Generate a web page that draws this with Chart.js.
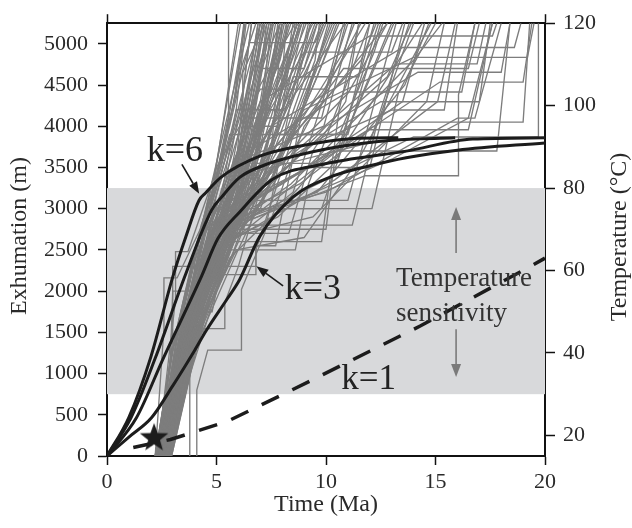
<!DOCTYPE html>
<html>
<head>
<meta charset="utf-8">
<script src="https://cdn.jsdelivr.net/npm/chart.js@4.4.0/dist/chart.umd.min.js"></script>
<style>
  html, body { margin: 0; padding: 0; background: #fff; }
  canvas { display: block; }
</style>
</head>
<body>
<canvas id="chart" width="632" height="528"></canvas>
<script>
// axis ticks
const timeTicks = [0, 5, 10, 15, 20];
const depthTicks = [0, 500, 1000, 1500, 2000, 2500, 3000, 3500, 4000, 4500, 5000];
const tempTicks = [20, 40, 60, 80, 100, 120];

// temperature sensitivity window (m)
const sensLow = 750;
const sensHigh = 3250;

// model curves, time (Ma) vs exhumation (m)
const k6Time = [0, 1, 2, 3, 3.6, 4.2, 4.5, 5.2, 7, 9, 11.5, 13.3];
const k6Exh  = [0, 470, 1200, 2170, 2660, 3100, 3190, 3380, 3640, 3770, 3855, 3860];
const k5Time = [0, 1.1, 2.2, 3.56, 4.77, 5.23, 6.06, 7.2, 8.3, 10.3, 13, 15.9];
const k5Exh  = [0, 467, 1185, 2183, 2980, 3140, 3380, 3530, 3620, 3740, 3830, 3860];
const k4Time = [0, 1.35, 2.57, 4.32, 5.07, 6.06, 7.58, 9.86, 13.66, 16.7, 20];
const k4Exh  = [0, 467, 1185, 2183, 2640, 2960, 3359, 3539, 3698, 3845, 3860];
const k3Time = [0, 1, 2.04, 3, 4, 4.54, 5.5, 6.06, 6.97, 8.49, 10.16, 12, 13.66, 16, 20];
const k3Exh  = [0, 230, 467, 850, 1280, 1525, 1910, 2142, 2661, 3140, 3380, 3520, 3619, 3710, 3798];
const k1Time = [1.2, 2.9, 5.5, 9.25, 14.3, 19.3, 20];
const k1Exh  = [104, 200, 420, 906, 1577, 2295, 2400];

// sample location
const starTime = [2.15];
const starExh = [224];

// individual sampled histories [time, exhumation]
const runs = [
  [[2.2,0],[2.95,1250],[4.0,2500],[4.9,3300],[5.8,4300],[6.25,5250]],
  [[2.25,0],[3.0,1250],[4.1,2550],[4.85,3220],[5.55,4120],[5.55,5250]],
  [[2.3,0],[3.1,1300],[4.2,2650],[5.3,3900],[6.5,5250]],
  [[2.3,0],[3.2,1450],[4.3,2800],[5.2,3500],[6.0,4600],[6.8,5250]],
  [[2.35,0],[3.15,1250],[4.4,2700],[5.6,3900],[6.1,3900],[6.9,5250]],
  [[2.4,0],[3.35,1450],[4.5,2800],[5.4,3600],[7.0,5250]],
  [[2.4,0],[3.3,1300],[4.6,2900],[6.2,4300],[6.2,4650],[7.2,5250]],
  [[2.45,0],[3.5,1600],[4.7,2750],[5.8,3300],[7.4,5250]],
  [[2.5,0],[3.4,1350],[4.5,2600],[5.5,3000],[6.5,4400],[7.6,5250]],
  [[2.5,0],[3.6,1500],[4.8,2900],[6.4,4000],[7.8,4000],[8.2,5250]],
  [[2.55,0],[3.5,1400],[4.9,2700],[6.6,3700],[8.0,5250]],
  [[2.6,0],[3.6,1450],[5.0,2850],[6.0,3200],[8.3,5250]],
  [[2.6,0],[3.7,1600],[5.1,3000],[7.0,4500],[8.6,5250]],
  [[2.65,0],[3.8,1700],[5.2,2700],[6.8,3300],[8.8,5250]],
  [[2.7,0],[3.7,1450],[5.3,2900],[7.5,4200],[8.0,4200],[9.0,5250]],
  [[2.7,0],[3.9,1800],[5.4,2600],[7.2,3500],[9.3,5250]],
  [[2.75,0],[3.8,1500],[5.5,2800],[7.0,3000],[9.5,4800],[9.7,5250]],
  [[2.8,0],[3.9,1600],[5.6,2700],[8.0,3800],[9.9,5250]],
  [[2.8,0],[4.0,1700],[5.7,2900],[7.6,3400],[10.3,5250]],
  [[2.85,0],[3.9,1400],[5.8,2700],[8.8,4100],[10.6,5250]],
  [[2.9,0],[4.0,1500],[5.9,2650],[8.5,3200],[11.0,5250]],
  [[2.4,0],[3.4,1500],[4.6,2600],[9.8,2600],[10.6,4200],[11.5,5250]],
  [[2.6,0],[3.7,1550],[5.0,2500],[8.6,2500],[9.2,3300],[12.0,5250]],
  [[2.5,0],[3.5,1500],[4.9,2750],[10.0,2750],[10.4,3600],[12.4,5250]],
  [[2.7,0],[3.8,1600],[5.3,2800],[7.4,2800],[9.0,4000],[12.8,5250]],
  [[2.35,0],[3.4,1600],[4.4,2500],[6.8,3100],[11.0,3100],[13.2,5250]],
  [[2.55,0],[3.6,1600],[5.2,2950],[9.2,3500],[12.0,3500],[13.6,5250]],
  [[2.8,0],[3.9,1600],[5.7,2800],[11.2,2800],[12.3,4000],[14.0,5250]],
  [[2.45,0],[3.5,1500],[4.9,2800],[8.0,3300],[13.5,4300],[14.5,5250]],
  [[2.65,0],[3.8,1650],[5.4,3000],[12.1,3000],[13.3,4400],[15.0,5250]],
  [[2.75,0],[3.8,1500],[5.6,2650],[9.4,2900],[14.6,4300],[15.4,5250]],
  [[2.9,0],[4.0,1600],[5.9,2800],[11.8,3400],[16.05,3400],[16.05,4380],[16.8,5250]],
  [[2.6,0],[3.6,1450],[5.1,2700],[13.0,3600],[16.5,4100],[17.6,5250]],
  [[2.4,0],[3.5,1500],[4.8,2800],[10.5,3700],[17.8,3700],[18.4,5250]],
  [[2.7,0],[3.7,1500],[5.4,2900],[12.5,4050],[19.0,4050],[19.3,5250]],
  [[2.5,0],[3.6,1550],[5.0,2700],[14.0,3870],[19.7,3870],[19.7,5250]],
  [[2.85,0],[3.9,1500],[5.8,2900],[10.8,4700],[16.5,4700],[17.0,5250]],
  [[2.2,0],[2.6,1550],[2.6,2160],[3.2,2160],[4.7,3000],[6.0,5250]],
  [[2.3,0],[3.13,1900],[3.13,2480],[3.7,2480],[4.9,3400],[6.1,5250]],
  [[4.1,0],[4.1,800],[4.6,1285],[6.14,1285],[6.14,2020],[7.2,2700],[8.4,4300],[9.2,5250]],
  [[3.78,0],[3.78,1100],[4.4,1545],[5.38,1545],[5.38,1860],[6.0,2300],[7.5,3700],[8.0,5250]],
  [[2.4,0],[2.9,1200],[3.0,2000],[4.0,2000],[4.0,2350],[5.4,3500],[7.3,5250]],
  [[2.55,0],[3.2,1500],[3.4,1750],[4.8,1750],[5.3,2400],[6.5,3600],[8.7,5250]],
  [[2.3,0],[3.0,1400],[3.0,2300],[3.6,2300],[6.8,2300],[6.8,2500],[9.5,4700],[10.2,5250]],
  [[2.6,0],[3.6,1450],[4.8,2200],[6.8,2200],[6.8,2550],[7.7,2550],[9.0,4300],[10.4,5250]],
  [[2.35,0],[3.3,1350],[4.6,2800],[7.0,4300],[12.0,5095],[17.6,5095],[17.8,5250]],
  [[2.45,0],[3.5,1550],[4.7,2700],[7.5,4000],[13.5,4955],[18.6,4955],[18.9,5250]],
  [[2.55,0],[3.5,1400],[5.0,2800],[9.0,4200],[14.0,4835],[19.2,4835],[19.5,5250]],
  [[2.65,0],[3.7,1500],[5.3,2900],[8.2,3600],[13.2,4756],[16.9,4756],[17.3,5250]],
  [[2.75,0],[3.9,1700],[5.5,2750],[10.0,4000],[14.2,4655],[18.0,4655],[18.4,5250]],
  [[2.85,0],[3.9,1500],[5.7,2700],[10.5,3700],[15.2,4536],[19.0,4536],[19.4,5250]],
  [[2.3,0],[3.3,1450],[4.4,2700],[6.5,3700],[11.0,4416],[16.2,4416],[16.8,5250]],
  [[2.4,0],[3.4,1500],[4.5,2750],[7.6,3500],[12.5,4297],[17.0,4297],[17.5,5250]],
  [[2.5,0],[3.5,1500],[4.8,2750],[9.5,3800],[13.0,4197],[15.4,4197],[16.0,5250]],
  [[2.6,0],[3.6,1450],[5.0,2800],[8.8,3300],[12.0,3958],[16.5,3958],[17.6,5250]],
  [[2.7,0],[3.8,1600],[5.2,2850],[10.0,3200],[16.0,4098],[16.8,4098],[18.0,5250]],
  [[2.8,0],[3.9,1600],[5.6,2900],[7.0,4000],[9.0,4900],[13.0,4900],[13.5,5250]],
  [[2.9,0],[4.0,1600],[5.9,2800],[7.5,3800],[8.5,4600],[11.5,4600],[12.2,5250]],
  [[2.2,0],[3.1,1450],[4.0,2450],[5.0,3500],[7.0,4450],[10.0,4450],[10.8,5250]],
  [[2.35,0],[3.2,1300],[4.3,2600],[5.6,4000],[6.5,5015],[9.5,5015],[9.9,5250]],
  [[2.45,0],[3.4,1400],[4.6,2700],[5.9,4200],[8.0,4200],[8.6,5250]],
  [[2.55,0],[3.5,1450],[4.8,2700],[6.2,3600],[7.0,4700],[9.0,4700],[9.6,5250]],
  [[2.65,0],[3.7,1500],[5.1,2800],[6.4,3900],[11.0,3900],[12.5,5250]],
  [[2.75,0],[3.8,1550],[5.4,2600],[7.8,2900],[10.2,3500],[14.4,5250]],
  [[2.85,0],[3.9,1500],[5.6,2700],[6.8,3600],[7.5,5250]],
  [[2.25,0],[3.2,1400],[4.3,2700],[5.3,3700],[6.3,5250]],
  [[2.5,0],[3.6,1600],[4.6,2500],[5.8,3300],[6.3,4600],[6.6,5250]],
  [[2.7,0],[3.7,1400],[5.0,2500],[6.3,3800],[7.2,5250]],
  [[2.6,0],[3.6,1500],[5.0,2700],[7.2,4800],[7.9,5250]],
  [[2.4,0],[3.3,1350],[4.4,2650],[5.6,3300],[8.1,4600],[8.5,5250]],
  [[2.3,0],[3.3,1200],[4.5,2100],[5.6,3100],[6.4,4300],[7.0,5250]],
  [[2.45,0],[3.5,1300],[4.7,2200],[5.9,3300],[6.9,4500],[7.4,5250]],
  [[2.6,0],[3.8,1400],[5.0,2300],[6.1,3400],[7.0,4200],[7.7,5250]],
  [[2.75,0],[3.9,1300],[5.2,2300],[6.4,3500],[7.4,4400],[8.1,5250]],
  [[2.85,0],[4.0,1350],[5.5,2400],[6.7,3500],[7.6,4600],[8.4,5250]],
  [[2.9,0],[4.1,1400],[5.8,2500],[7.0,3400],[8.0,4500],[8.8,5250]],
  [[2.5,0],[3.7,1500],[5.3,2600],[6.5,3800],[7.3,5000],[7.5,5250]],
  [[2.65,0],[3.9,1600],[5.5,2700],[6.6,3300],[7.6,4700],[8.0,5250]],
  [[2.8,0],[4.0,1500],[5.7,2600],[7.1,3600],[8.3,4700],[9.1,5250]],
  [[2.55,0],[3.7,1350],[5.1,2500],[6.8,3400],[8.6,4800],[9.4,5250]],
  [[2.35,0],[3.5,1400],[4.8,2400],[6.0,3200],[7.8,4500],[8.9,5250]],
  [[2.7,0],[3.8,1450],[5.4,2650],[6.9,3700],[9.0,4700],[9.8,5250]],
  [[2.9,0],[4.0,1300],[5.9,2450],[7.4,3300],[9.2,4400],[10.1,5250]],
  [[2.4,0],[3.6,1500],[4.9,2550],[6.3,3600],[8.2,4900],[8.7,5250]],
  [[2.6,0],[3.8,1500],[5.2,2500],[6.4,3000],[7.2,4000],[7.8,5250]],
  [[2.75,0],[3.9,1400],[5.6,2550],[7.3,3200],[9.6,4600],[10.5,5250]],
  [[2.5,0],[3.6,1400],[5.0,2450],[7.0,3800],[10.2,5000],[10.9,5250]],
  [[2.85,0],[4.0,1450],[5.8,2600],[8.0,3700],[10.8,4900],[11.3,5250]],
  [[2.3,0],[3.4,1350],[4.7,2500],[6.2,3300],[9.8,4400],[11.8,5250]],
  [[2.65,0],[3.8,1450],[5.3,2500],[8.5,3900],[11.6,4800],[12.3,5250]],
  [[2.45,0],[3.6,1450],[5.0,2600],[7.3,3400],[11.0,4400],[12.8,5250]],
  [[2.8,0],[3.9,1350],[5.6,2400],[7.9,3000],[10.9,3900],[13.1,5250]],
  [[2.55,0],[3.7,1450],[5.2,2700],[9.0,3700],[12.8,4600],[13.9,5250]],
  [[2.7,0],[3.9,1550],[5.5,2800],[9.6,3200],[13.6,4500],[14.7,5250]],
  [[2.4,0],[3.5,1450],[4.9,2650],[8.4,3300],[14.0,4800],[15.3,5250]],
  [[2.6,0],[3.7,1400],[5.3,2550],[10.4,3350],[15.1,4300],[15.9,5250]],
  [[2.9,0],[4.0,1450],[5.9,2500],[9.0,2650],[11.5,3600],[14.8,5250]],
  [[2.35,0],[3.4,1450],[4.7,2650],[6.0,3400],[12.0,3800],[13.8,5250]],
  [[2.5,0],[3.6,1500],[5.1,2650],[6.2,3600],[9.9,4000],[11.2,5250]],
  [[2.75,0],[3.9,1500],[5.4,2500],[6.6,2900],[8.1,3500],[11.6,5250]],
  [[2.3,0],[3.2,1250],[4.3,2300],[5.2,3100],[5.9,4200],[6.35,5250]],
  [[2.4,0],[3.3,1250],[4.5,2350],[5.4,3300],[6.2,4400],[6.6,5250]],
  [[2.55,0],[3.5,1300],[4.7,2400],[5.7,3500],[6.5,4600],[6.9,5250]],
  [[2.7,0],[3.7,1350],[4.9,2450],[6.0,3600],[6.8,4700],[7.2,5250]],
  [[2.2,0],[3.0,1300],[4.0,2450],[4.9,3300],[5.9,4400],[6.3,5250]],
  [[2.8,0],[3.9,1400],[5.3,2500],[6.3,3500],[7.0,4300],[7.6,5250]],
  [[2.45,0],[3.4,1300],[4.6,2300],[5.5,3000],[6.4,4100],[7.1,5250]],
  [[2.6,0],[3.6,1350],[5.0,2450],[6.0,3200],[7.3,4500],[7.9,5250]],
  [[2.9,0],[4.1,1500],[6.0,2600],[7.2,3400],[8.6,4400],[9.3,5250]],
  [[2.85,0],[4.0,1550],[5.8,2750],[7.5,3700],[8.9,4800],[9.5,5250]],
  [[2.5,0],[3.6,1450],[5.0,2600],[6.8,3550],[10.5,3550],[11.4,4500],[12.0,5250]],
  [[2.65,0],[3.8,1500],[5.3,2650],[7.8,3900],[10.6,3900],[12.2,4900],[12.6,5250]],
  [[2.4,0],[3.5,1500],[4.8,2700],[6.5,4100],[9.8,4100],[10.9,5250]],
  [[2.75,0],[3.9,1550],[5.5,2700],[8.3,2700],[9.4,3700],[10.9,4300],[11.5,5250]],
  [[2.55,0],[3.6,1400],[5.1,2700],[7.2,3000],[9.8,3000],[11.2,4100],[13.0,5250]],
  [[2.8,0],[3.6,900],[4.3,1600],[5.2,2300],[6.2,3200],[7.4,4500],[8.0,5250]],
  [[2.9,0],[3.8,1000],[4.4,1500],[5.4,2350],[6.5,3400],[7.7,4700],[8.2,5250]],
  [[2.95,0],[3.9,1100],[4.5,1700],[5.6,2450],[6.7,3300],[8.2,4600],[8.9,5250]],
  [[2.85,0],[3.7,950],[4.2,1500],[5.0,2150],[6.0,3000],[7.1,4200],[7.9,5250]],
  [[2.75,0],[3.6,1000],[4.1,1600],[4.9,2250],[5.8,3000],[6.8,4300],[7.3,5250]],
  [[2.9,0],[3.9,1200],[4.6,1900],[5.7,2700],[6.9,3600],[8.4,4900],[8.8,5250]],
  [[2.8,0],[3.8,1150],[4.4,1800],[5.3,2500],[6.6,3700],[7.9,5250]],
  [[2.7,0],[3.6,1100],[4.2,1800],[5.1,2600],[6.1,3500],[7.0,4600],[7.5,5250]],
  [[2.95,0],[4.0,1250],[4.8,2000],[5.9,2700],[7.0,3300],[8.8,4700],[9.6,5250]],
  [[2.6,0],[3.5,1150],[4.0,1750],[4.7,2400],[5.6,3300],[6.6,4400],[7.1,5250]],
  [[2.5,0],[3.5,1400],[4.7,2500],[5.7,3100],[6.7,4000],[7.9,4800],[8.3,5250]],
  [[2.35,0],[3.3,1350],[4.4,2450],[5.3,3300],[6.0,3900],[6.8,4900],[7.0,5250]],
  [[2.65,0],[3.7,1400],[5.1,2600],[6.5,3450],[7.4,4200],[8.4,5000],[8.7,5250]],
  [[2.8,0],[3.8,1450],[5.4,2650],[7.0,3500],[8.2,4200],[9.5,4900],[10.0,5250]]
];

const FONT = "'Liberation Serif', 'Times New Roman', serif";
const INK = '#1c1c1c';
const GREY = '#7d7d7d';

function pts(ts, es) {
  return ts.map((t, i) => ({ x: t, y: es[i] }));
}

// filled star marker
const starImg = document.createElement('canvas');
starImg.width = 32; starImg.height = 32;
(function () {
  const c = starImg.getContext('2d');
  c.beginPath();
  for (let i = 0; i < 10; i++) {
    const r = i % 2 === 0 ? 15 : 6.2;
    const a = -Math.PI / 2 + i * Math.PI / 5;
    const px = 16 + r * Math.cos(a), py = 16.5 + r * Math.sin(a);
    if (i === 0) c.moveTo(px, py); else c.lineTo(px, py);
  }
  c.closePath();
  c.fillStyle = INK;
  c.fill();
})();

const datasets = [];
datasets.push({
  data: pts(starTime, starExh), showLine: false,
  pointStyle: starImg, pointRadius: 15, order: 0
});
datasets.push({
  data: pts(k1Time, k1Exh), borderColor: INK, borderWidth: 3.5,
  borderDash: [19, 15], pointRadius: 0, order: 1
});
[[k6Time, k6Exh], [k5Time, k5Exh], [k4Time, k4Exh], [k3Time, k3Exh]].forEach(c => {
  datasets.push({
    data: pts(c[0], c[1]), borderColor: INK, borderWidth: 3,
    cubicInterpolationMode: 'monotone', pointRadius: 0, order: 2
  });
});
runs.forEach(r => {
  datasets.push({
    data: r.map(p => ({ x: p[0], y: p[1] })), borderColor: GREY,
    borderWidth: 1.35, pointRadius: 0, order: 3
  });
});

function setTicks(list) {
  return s => { s.ticks = list.map(v => ({ value: v })); };
}

const gridOpts = { drawOnChartArea: false, tickLength: 9, color: '#111', tickWidth: 1.5 };
const borderOpts = { color: '#111', width: 2 };
const tickFont = { family: FONT, size: 22 };
const plain = v => String(v);

const sensBand = {
  id: 'sensBand',
  beforeDatasetsDraw(chart) {
    const { ctx, chartArea: a, scales } = chart;
    const top = scales.y.getPixelForValue(sensHigh);
    const bot = scales.y.getPixelForValue(sensLow);
    ctx.save();
    ctx.fillStyle = '#d8d9db';
    ctx.fillRect(a.left, top, a.right - a.left, bot - top);
    ctx.restore();
  }
};

function arrow(ctx, x1, y1, x2, y2, color, w, hl, hw) {
  const ang = Math.atan2(y2 - y1, x2 - x1);
  const bx = x2 - hl * Math.cos(ang), by = y2 - hl * Math.sin(ang);
  ctx.strokeStyle = color; ctx.fillStyle = color; ctx.lineWidth = w;
  ctx.beginPath(); ctx.moveTo(x1, y1); ctx.lineTo(bx, by); ctx.stroke();
  ctx.beginPath();
  ctx.moveTo(x2, y2);
  ctx.lineTo(bx + hw / 2 * Math.sin(ang), by - hw / 2 * Math.cos(ang));
  ctx.lineTo(bx - hw / 2 * Math.sin(ang), by + hw / 2 * Math.cos(ang));
  ctx.closePath(); ctx.fill();
}

const notes = {
  id: 'notes',
  afterDatasetsDraw(chart) {
    const { ctx, scales } = chart;
    const X = v => scales.x.getPixelForValue(v);
    const Y = v => scales.y.getPixelForValue(v);
    ctx.save();
    ctx.fillStyle = '#222';
    ctx.textBaseline = 'alphabetic';
    ctx.textAlign = 'center';
    ctx.font = '36px ' + FONT;
    ctx.fillText('k=6', X(3.1), Y(3575));
    ctx.fillText('k=3', X(9.4), Y(1899));
    ctx.font = '35px ' + FONT;
    ctx.fillText('k=1', X(11.95), Y(818));

    ctx.fillStyle = '#333';
    ctx.textAlign = 'left';
    ctx.font = '27px ' + FONT;
    ctx.fillText('Temperature', X(13.2), Y(2066));
    ctx.fillText('sensitivity', X(13.2), Y(1636));

    arrow(ctx, X(3.42), Y(3537), X(4.21), Y(3180), INK, 1.6, 12, 9);
    arrow(ctx, X(8.04), Y(2063), X(6.82), Y(2302), INK, 1.6, 12, 9);
    arrow(ctx, X(15.94), Y(2462), X(15.94), Y(3021), '#7a7a7a', 1.6, 13, 10);
    arrow(ctx, X(15.94), Y(1537), X(15.94), Y(957), '#7a7a7a', 1.6, 13, 10);
    ctx.restore();
  }
};

const titles = {
  id: 'titles',
  afterDraw(chart) {
    const ctx = chart.ctx;
    ctx.save();
    ctx.fillStyle = '#2a2a2a';
    ctx.font = '24px ' + FONT;
    ctx.textAlign = 'center';
    ctx.textBaseline = 'middle';
    ctx.fillText('Time (Ma)', 326, 505);
    ctx.translate(20, 236);
    ctx.rotate(-Math.PI / 2);
    ctx.fillText('Exhumation (m)', 0, 0);
    ctx.restore();
    ctx.save();
    ctx.fillStyle = '#2a2a2a';
    ctx.font = '24px ' + FONT;
    ctx.textAlign = 'center';
    ctx.textBaseline = 'middle';
    ctx.translate(620, 237);
    ctx.rotate(-Math.PI / 2);
    ctx.fillText('Temperature (\u00B0C)', 0, 0);
    ctx.restore();
  }
};

new Chart(document.getElementById('chart'), {
  type: 'line',
  data: { datasets: datasets },
  options: {
    responsive: false,
    devicePixelRatio: 1,
    animation: false,
    layout: { padding: 0 },
    plugins: { legend: { display: false }, tooltip: { enabled: false } },
    scales: {
      x: {
        type: 'linear', position: 'bottom', min: 0, max: 20,
        afterBuildTicks: setTicks(timeTicks),
        afterFit: s => { s.height = 72; },
        grid: gridOpts, border: borderOpts,
        ticks: { font: tickFont, color: '#2a2a2a', padding: 4, maxRotation: 0, callback: plain }
      },
      xTop: {
        type: 'linear', position: 'top', min: 0, max: 20,
        afterBuildTicks: setTicks(timeTicks),
        afterFit: s => { s.height = 17; },
        grid: gridOpts, border: borderOpts,
        ticks: { display: false }
      },
      y: {
        type: 'linear', position: 'left', min: 0, max: 5250,
        afterBuildTicks: setTicks(depthTicks),
        afterFit: s => { s.width = 107; },
        grid: gridOpts, border: borderOpts,
        ticks: { font: tickFont, color: '#2a2a2a', padding: 10, callback: plain }
      },
      yT: {
        type: 'linear', position: 'right', min: 15, max: 120,
        afterBuildTicks: setTicks(tempTicks),
        afterFit: s => { s.width = 87; },
        grid: Object.assign({}, gridOpts, { tickLength: 10 }), border: borderOpts,
        ticks: { font: tickFont, color: '#2a2a2a', padding: 8, callback: plain }
      }
    }
  },
  plugins: [sensBand, notes, titles]
});
</script>
</body>
</html>
